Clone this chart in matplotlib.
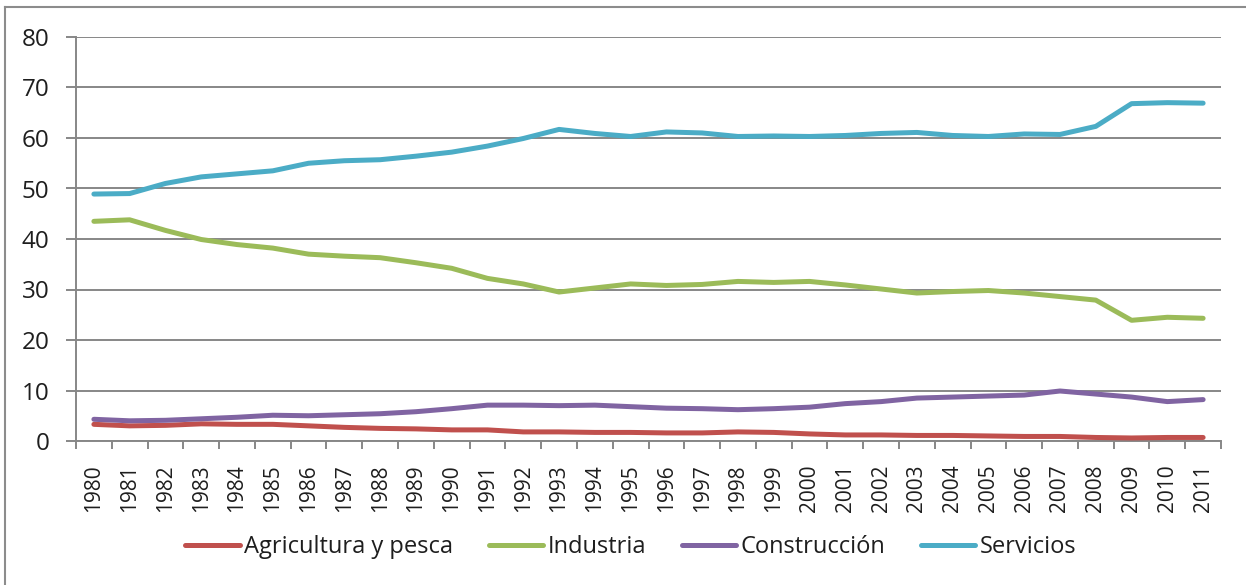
import numpy as np
import matplotlib
matplotlib.use("Agg")
import matplotlib.pyplot as plt
from matplotlib.lines import Line2D

plt.rcParams['font.family'] = ['Open Sans', 'DejaVu Sans']

years = [str(y) for y in range(1980, 2012)]

agricultura = [3.3, 3.0, 3.1, 3.4, 3.3, 3.3, 3.0, 2.7, 2.5, 2.4, 2.2, 2.2, 1.8, 1.8, 1.7, 1.7,
               1.6, 1.6, 1.8, 1.7, 1.4, 1.2, 1.2, 1.1, 1.1, 1.0, 0.9, 0.9, 0.7, 0.6, 0.7, 0.7]
industria = [43.5, 43.8, 41.7, 39.9, 38.9, 38.2, 37.0, 36.6, 36.3, 35.3, 34.2, 32.2, 31.1, 29.5, 30.3, 31.1,
             30.8, 31.0, 31.6, 31.4, 31.6, 30.9, 30.1, 29.3, 29.6, 29.8, 29.3, 28.6, 27.9, 23.9, 24.5, 24.3]
construccion = [4.3, 4.0, 4.1, 4.4, 4.7, 5.1, 5.0, 5.2, 5.4, 5.8, 6.4, 7.1, 7.1, 7.0, 7.1, 6.8,
                6.5, 6.4, 6.2, 6.4, 6.7, 7.4, 7.8, 8.5, 8.7, 8.9, 9.1, 9.9, 9.3, 8.7, 7.8, 8.2]
servicios = [48.9, 49.0, 51.0, 52.3, 52.9, 53.5, 55.0, 55.5, 55.7, 56.4, 57.2, 58.4, 59.9, 61.7, 60.9, 60.3,
             61.2, 61.0, 60.3, 60.4, 60.3, 60.5, 60.9, 61.1, 60.5, 60.3, 60.8, 60.7, 62.3, 66.8, 67.0, 66.9]

series = [("Agricultura y pesca", agricultura, "#C0504D"),
          ("Industria", industria, "#9BBB59"),
          ("Construcción", construccion, "#8064A2"),
          ("Servicios", servicios, "#4BACC6")]

W, H = 1246, 585
fig = plt.figure(figsize=(W / 100, H / 100), dpi=100)
ax = fig.add_axes([76 / W, 1 - 441 / H, (1221 - 76) / W, (441 - 37) / H])

grid_c = "#878787"
txt_c = "#1e1e1e"
x = np.arange(len(years))
for name, vals, col in series:
    ax.plot(x, vals, color=col, lw=3.6, label=name, solid_capstyle="round", zorder=3)

ax.set_xlim(-0.5, len(years) - 0.5)
ax.set_ylim(0, 80)
ax.set_yticks(range(0, 81, 10))
ax.yaxis.grid(True, color=grid_c, lw=1.4)
ax.set_axisbelow(True)

ax.set_xticks(x)
ax.set_xticklabels(years, rotation=90, fontsize=15, color=txt_c)
ax.set_xticks(np.arange(-0.5, len(years), 1), minor=True)
ax.tick_params(axis="x", which="major", length=0, pad=17)
ax.tick_params(axis="x", which="minor", length=6, width=1.4, color=grid_c)
ax.tick_params(axis="y", length=7, width=1.4, color=grid_c, pad=12, labelsize=17.5, labelcolor=txt_c)

for s in ["top", "right"]:
    ax.spines[s].set_visible(False)
for s in ["left", "bottom"]:
    ax.spines[s].set_color(grid_c)
    ax.spines[s].set_linewidth(1.4)

leg = fig.legend(loc="center", bbox_to_anchor=(631 / W, 1 - 547 / H), ncol=4, frameon=False,
                 fontsize=17, handlelength=2.3, handletextpad=0.2, columnspacing=1.5)
for t in leg.get_texts():
    t.set_color(txt_c)

# outer chart border (left and top visible)
fig.add_artist(Line2D([5 / W, 5 / W], [0, 1 - 7 / H], color="#8c8c8c", lw=1.5))
fig.add_artist(Line2D([5 / W, 1], [1 - 7 / H, 1 - 7 / H], color="#8c8c8c", lw=1.5))

fig.savefig("out.png", dpi=100)
